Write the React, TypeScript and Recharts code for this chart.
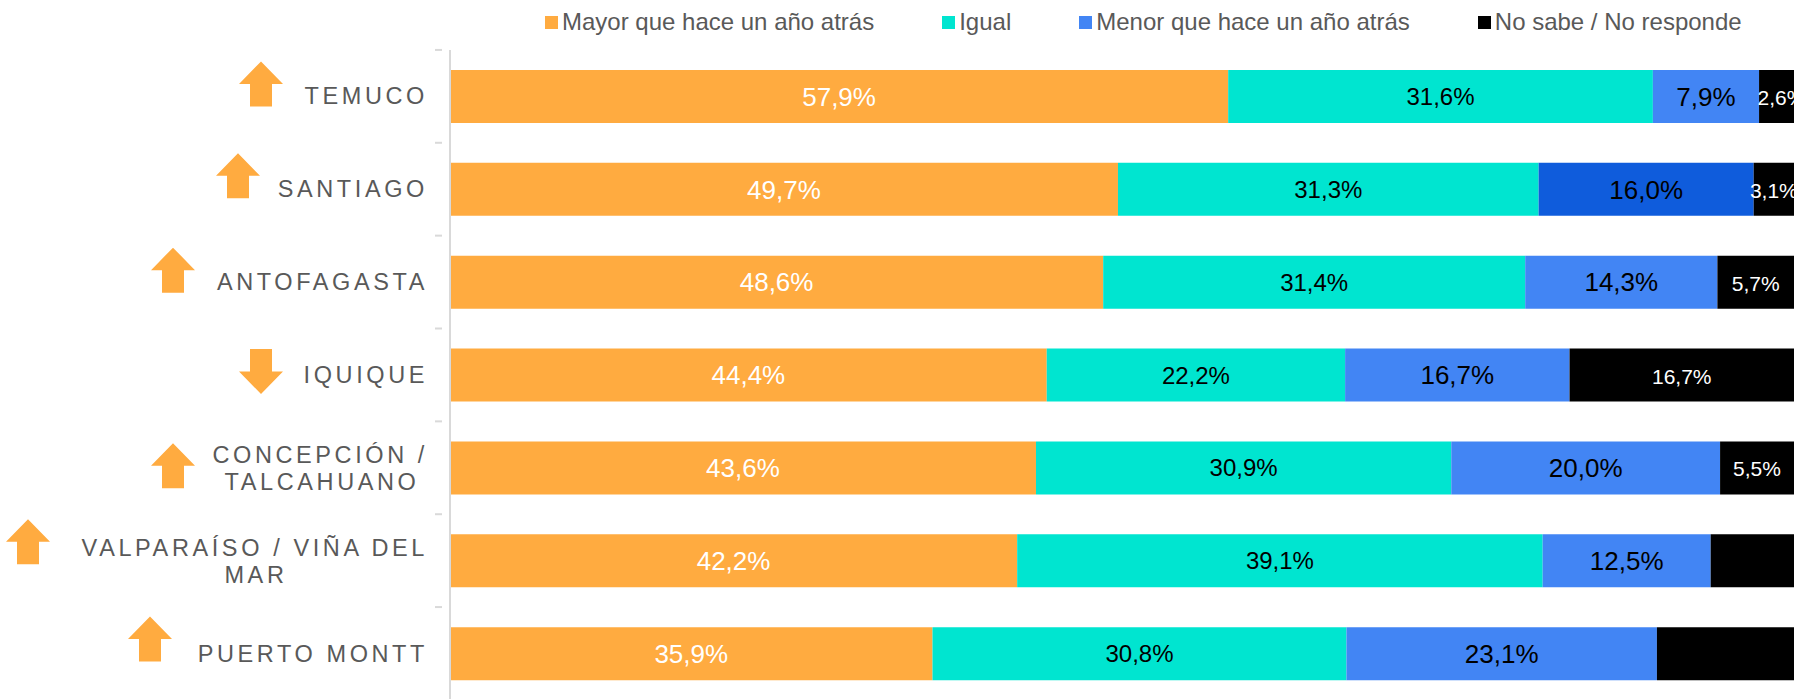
import { BarChart, Bar, Cell, XAxis, YAxis, Legend, LabelList } from "recharts";

const cities = [
  "TEMUCO",
  "SANTIAGO",
  "ANTOFAGASTA",
  "IQUIQUE",
  "CONCEPCIÓN /\nTALCAHUANO",
  "VALPARAÍSO / VIÑA DEL\nMAR",
  "PUERTO MONTT",
];
const mayor = [57.9, 49.7, 48.6, 44.4, 43.6, 42.2, 35.9];
const igual = [31.6, 31.3, 31.4, 22.2, 30.9, 39.1, 30.8];
const menor = [7.9, 16.0, 14.3, 16.7, 20.0, 12.5, 23.1];
const noSabe = [2.6, 3.1, 5.7, 16.7, 5.5, 6.2, 10.2];
// the last two black segments carry no visible label
const noSabeLabels = ["2,6%", "3,1%", "5,7%", "16,7%", "5,5%", null, null];
const trend = ["up", "up", "up", "down", "up", "up", "up"];

const FONT = "'Liberation Sans', Arial, sans-serif";
const GREY = "#595959";
const AXIS = "#D9D9D9";
const ROW = 93;
const TICK_FONT = 23.5;
const TICK_SPACING = 3.6;

// where each arrow sits: centre x on the page, y offset from the row centre
const arrowX = [261, 238, 173, 261, 173, 28, 150];
const arrowDy = [-12.5, -13.5, -12, -3.5, -2, -19, -14.5];

const rows = cities.map((city, i) => ({
  city,
  idx: i,
  mayor: mayor[i],
  igual: igual[i],
  menor: menor[i],
  noSabe: noSabe[i],
  noSabeLabel: noSabeLabels[i],
}));

const pct = (v: number) => v.toFixed(1).replace(".", ",") + "%";

function lineWidth(text: string) {
  const ctx = document.createElement("canvas").getContext("2d")!;
  ctx.font = `${TICK_FONT}px 'Liberation Sans'`;
  return ctx.measureText(text).width + TICK_SPACING * (text.length - 1);
}

function Arrow({ cx, cy, dir }: { cx: number; cy: number; dir: string }) {
  const s = dir === "up" ? 1 : -1;
  const pts = [
    [0, -22.5],
    [22, 0],
    [11, 0],
    [11, 22.5],
    [-11, 22.5],
    [-11, 0],
    [-22, 0],
  ]
    .map(([x, y]) => `${cx + x},${cy + s * y}`)
    .join(" ");
  return <polygon points={pts} fill="#FFAB40" />;
}

function CityTick({ x, y, payload, index }: any) {
  const lines: string[] = String(payload.value).split("\n");
  const right = x - 14;
  const common = {
    fontFamily: FONT,
    fontSize: TICK_FONT,
    fill: GREY,
    letterSpacing: TICK_SPACING,
  };
  const first = lineWidth(lines[0]);
  return (
    <g>
      <line x1={x - 7} x2={x} y1={y - ROW / 2} y2={y - ROW / 2} stroke={AXIS} strokeWidth={2} />
      {lines.length === 1 ? (
        <text x={right} y={y + 8} textAnchor="end" {...common}>
          {lines[0]}
        </text>
      ) : (
        <>
          <text x={right} y={y - 5} textAnchor="end" {...common}>
            {lines[0]}
          </text>
          <text x={right - first / 2} y={y + 22} textAnchor="middle" {...common}>
            {lines[1]}
          </text>
        </>
      )}
      <Arrow cx={arrowX[index]} cy={y + arrowDy[index]} dir={trend[index]} />
    </g>
  );
}

// 2,6% sits a little right of its segment's centre and runs off the edge
function NoSabeLabel({ x, y, width, height, value, index }: any) {
  if (value == null) return null;
  return (
    <text
      x={x + width / 2 + (index === 0 ? 5 : 0)}
      y={y + height / 2 + 1}
      textAnchor="middle"
      dominantBaseline="central"
      fill="#FFFFFF"
      fontSize={21}
      fontFamily={FONT}
    >
      {value}
    </text>
  );
}

function LegendRow({ payload }: any) {
  return (
    <div style={{ display: "flex", gap: 68, fontFamily: FONT, fontSize: 24, color: GREY }}>
      {payload.map((item: any) => (
        <div key={item.value} style={{ display: "flex", alignItems: "center" }}>
          <span style={{ width: 13, height: 13, background: item.color, marginRight: 4 }} />
          <span>{item.value}</span>
        </div>
      ))}
    </div>
  );
}

export default function App() {
  return (
    <div style={{ position: "absolute", left: 0, top: 0, width: 1794, height: 699, overflow: "hidden" }}>
      <BarChart
        width={1794}
        height={700}
        data={rows}
        layout="vertical"
        margin={{ top: 22, right: 0, bottom: 0, left: 0 }}
      >
        <XAxis type="number" domain={[0, 100]} allowDataOverflow hide />
        <YAxis
          type="category"
          dataKey="city"
          width={450}
          interval={0}
          axisLine={{ stroke: AXIS, strokeWidth: 2 }}
          tickLine={false}
          tick={<CityTick />}
        />
        <Legend
          verticalAlign="top"
          itemSorter={null as any}
          content={<LegendRow />}
          wrapperStyle={{ top: 8, left: 545, width: 1240 }}
        />
        <Bar dataKey="mayor" name="Mayor que hace un año atrás" stackId="a" barSize={53} fill="#FFAB40" isAnimationActive={false}>
          <LabelList dataKey="mayor" position="center" formatter={pct} fill="#FFFFFF" fontSize={26} fontFamily={FONT} />
        </Bar>
        <Bar dataKey="igual" name="Igual" stackId="a" barSize={53} fill="#00E5D0" isAnimationActive={false}>
          <LabelList dataKey="igual" position="center" formatter={pct} fill="#000000" fontSize={24} fontFamily={FONT} />
        </Bar>
        <Bar dataKey="menor" name="Menor que hace un año atrás" stackId="a" barSize={53} fill="#4285F4" isAnimationActive={false}>
          {rows.map((r) => (
            <Cell key={r.city} fill={r.city === "SANTIAGO" ? "#0F5CDC" : "#4285F4"} />
          ))}
          <LabelList dataKey="menor" position="center" formatter={pct} fill="#000000" fontSize={26} fontFamily={FONT} />
        </Bar>
        <Bar dataKey="noSabe" name="No sabe / No responde" stackId="a" barSize={53} fill="#000000" isAnimationActive={false}>
          <LabelList dataKey="noSabeLabel" content={<NoSabeLabel />} />
        </Bar>
      </BarChart>
    </div>
  );
}
